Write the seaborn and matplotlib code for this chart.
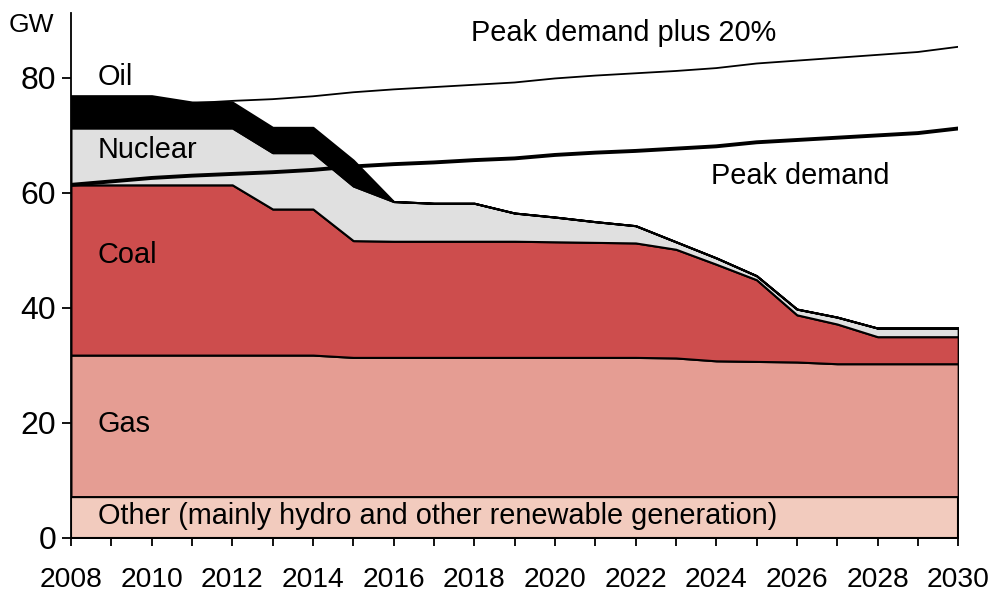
import matplotlib
matplotlib.use("Agg")
import matplotlib.pyplot as plt
import numpy as np
import pandas as pd
import seaborn as sns

# Years on the horizontal axis
years = list(range(2008, 2031))

# Cumulative tops of each stacked band (GW)
other_top = [7.2] * 23
gas_top = [31.8, 31.8, 31.8, 31.8, 31.8, 31.8, 31.8, 31.4, 31.4, 31.4, 31.4, 31.4,
           31.4, 31.4, 31.4, 31.3, 30.8, 30.7, 30.6, 30.3, 30.3, 30.3, 30.3]
coal_top = [61.4, 61.4, 61.4, 61.4, 61.4, 57.2, 57.2, 51.7, 51.6, 51.6, 51.6, 51.6,
            51.5, 51.4, 51.3, 50.2, 47.6, 44.9, 38.8, 37.2, 35.0, 35.0, 35.0]
nuclear_top = [71.3, 71.3, 71.3, 71.3, 71.3, 67.0, 67.0, 61.2, 58.5, 58.2, 58.2, 56.5,
               55.8, 55.0, 54.3, 51.5, 48.7, 45.6, 39.8, 38.4, 36.5, 36.5, 36.5]
oil_top = [76.9, 76.9, 76.9, 75.8, 75.8, 71.4, 71.4, 65.7, 58.5, 58.2, 58.2, 56.5,
           55.8, 55.0, 54.3, 51.5, 48.7, 45.6, 39.8, 38.4, 36.5, 36.5, 36.5]

peak_demand = [61.4, 62.0, 62.6, 63.0, 63.3, 63.6, 64.0, 64.6, 65.0, 65.3, 65.7, 66.0,
               66.6, 67.0, 67.3, 67.7, 68.1, 68.8, 69.2, 69.6, 70.0, 70.4, 71.2]
peak_plus_20 = [73.7, 74.4, 75.1, 75.6, 76.0, 76.3, 76.8, 77.5, 78.0, 78.4, 78.8, 79.2,
                79.9, 80.4, 80.8, 81.2, 81.7, 82.5, 83.0, 83.5, 84.0, 84.5, 85.4]

band_names = ["Other", "Gas", "Coal", "Nuclear", "Oil"]
band_colors = ["#f2cbbe", "#e59d93", "#cd4d4d", "#e0e0e0", "#000000"]

sns.set_theme(style="ticks")
plt.rcParams["font.family"] = ["Liberation Sans", "DejaVu Sans"]

fig = plt.figure(figsize=(9.98, 5.94), dpi=100)
ax = fig.add_axes([0.0711, 0.0943, 0.889, 0.884])

# Stacked bands: drawn as fills between consecutive cumulative tops
tops = [other_top, gas_top, coal_top, nuclear_top, oil_top]
lower = [0] * len(years)
for name, top, color in zip(band_names, tops, band_colors):
    ax.fill_between(years, lower, top, facecolor=color, edgecolor="black",
                    linewidth=1.5, zorder=2)
    lower = top

# Demand lines
df = pd.DataFrame({"year": years, "peak": peak_demand, "plus20": peak_plus_20})
sns.lineplot(data=df, x="year", y="peak", color="black", linewidth=2.8, ax=ax, zorder=4)
sns.lineplot(data=df, x="year", y="plus20", color="black", linewidth=1.3, ax=ax, zorder=4)

ax.set_xlim(2008, 2030)
ax.set_ylim(0, 91.3)
ax.set_xlabel("")
ax.set_ylabel("")

ax.set_xticks(range(2008, 2031, 2))
ax.set_xticks(range(2009, 2030, 2), minor=True)
ax.set_yticks([0, 20, 40, 60, 80])
ax.tick_params(axis="x", which="both", direction="out", length=6, width=1.3,
               color="black", labelcolor="black", labelsize=20.3, pad=15)
ax.tick_params(axis="y", direction="out", length=6.5, width=1.3, color="black",
               labelcolor="black", labelsize=23, pad=4)

sns.despine(ax=ax, top=True, right=True)
for side in ["left", "bottom"]:
    ax.spines[side].set_linewidth(1.3)
    ax.spines[side].set_color("black")

# Band and line labels
label_kw = dict(fontsize=20.8, color="black", va="center", ha="left", zorder=5)
ax.text(2008.67, 80.2, "Oil", **label_kw)
ax.text(2008.67, 67.5, "Nuclear", **label_kw)
ax.text(2008.67, 49.2, "Coal", **label_kw)
ax.text(2008.67, 19.8, "Gas", **label_kw)
ax.text(2008.67, 3.8, "Other (mainly hydro and other renewable generation)", **label_kw)
ax.text(2017.93, 87.8, "Peak demand plus 20%", **label_kw)
ax.text(2023.88, 63.0, "Peak demand", **label_kw)

fig.text(0.009, 0.958, "GW", fontsize=19, color="black", va="center", ha="left")

fig.savefig("out.png", dpi=100)
plt.close(fig)
